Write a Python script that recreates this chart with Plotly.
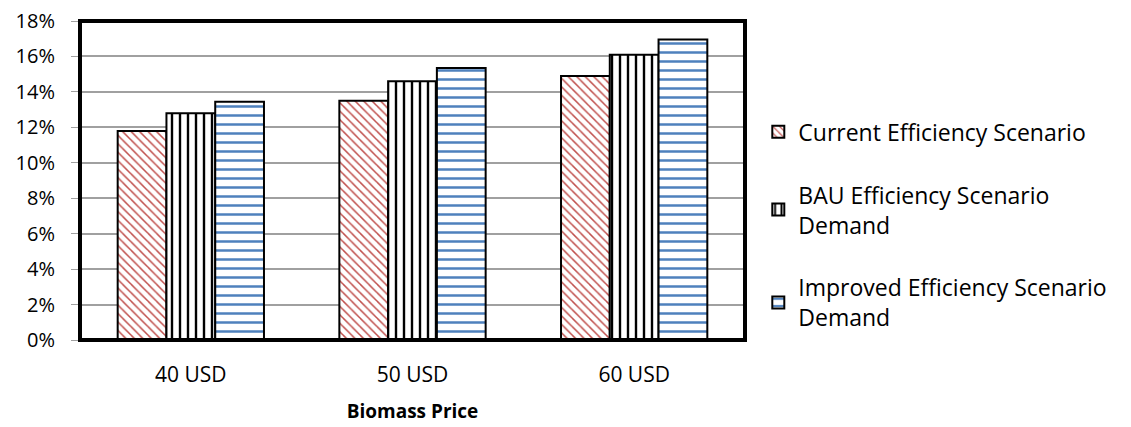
import plotly.graph_objects as go

# Chart values
prices = ['40 USD', '50 USD', '60 USD']
current_eff = [0.118, 0.135, 0.149]
bau_eff = [0.128, 0.146, 0.161]
improved_eff = [0.1345, 0.1535, 0.1695]

series = [
    ('Current Efficiency Scenario', current_eff, '\\', '#C0504D', 6, 0.25),
    ('BAU Efficiency Scenario<br>Demand', bau_eff, '|', '#000000', 8, 0.3),
    ('Improved Efficiency Scenario<br>Demand', improved_eff, '-', '#4F81BD', 9, 0.28),
]

FONT = 'Open Sans'

fig = go.Figure()
for i, (name, vals, shape, col, sz, sol) in enumerate(series):
    fig.add_trace(
        go.Bar(
            x=prices,
            y=vals,
            name=name,
            legendgroup=f'g{i}',
            marker=dict(
                color='white',
                line=dict(color='black', width=2),
                pattern=dict(shape=shape, fgcolor=col, bgcolor='white',
                             fgopacity=1, size=sz, solidity=sol),
            ),
        )
    )

# page body shifts the figure by ~8px, so margins compensate
fig.update_layout(
    width=1131,
    height=427,
    barmode='group',
    bargap=0.34,
    bargroupgap=0,
    plot_bgcolor='white',
    paper_bgcolor='white',
    font=dict(family=FONT, size=20, color='black'),
    margin=dict(l=72, r=394, t=13, b=95),
    legend=dict(
        x=1.02, y=0.72, xanchor='left', yanchor='top',
        font=dict(size=23), tracegroupgap=30, traceorder='grouped',
        bgcolor='rgba(0,0,0,0)',
    ),
    showlegend=True,
    xaxis=dict(
        title=dict(text='<b>Biomass Price</b>', font=dict(size=19), standoff=17),
        showgrid=False,
        ticks='',
        ticklabelstandoff=20,
        tickfont=dict(size=21),
        automargin=False,
    ),
    yaxis=dict(
        range=[0, 0.18],
        dtick=0.02,
        tickformat='.0%',
        showgrid=True,
        gridcolor='#A0A0A0',
        gridwidth=1.5,
        ticks='outside',
        ticklen=8,
        tickcolor='#A0A0A0',
        ticklabelstandoff=12,
        ticklabeloverflow='allow',
        zeroline=False,
        automargin=False,
    ),
)

# thick black frame round the plot area
fig.add_shape(
    type='rect', xref='paper', yref='paper', x0=0, y0=0, x1=1, y1=1,
    line=dict(color='black', width=4), layer='above',
)

fig.write_html('out.html')
